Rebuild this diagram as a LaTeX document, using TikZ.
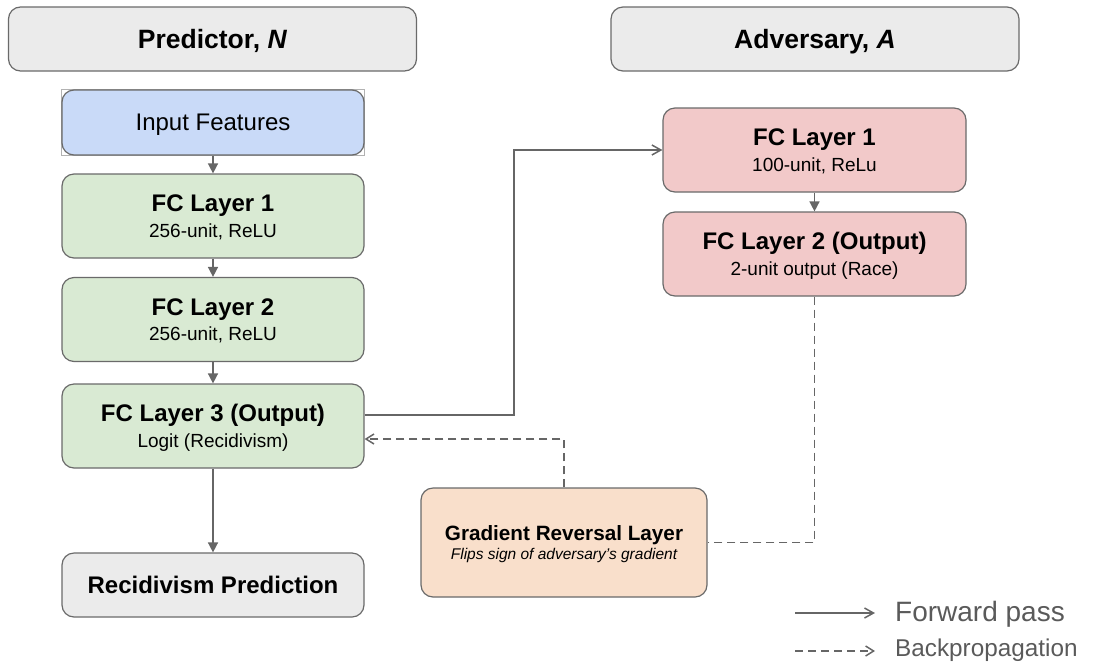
\documentclass[tikz,border=0pt]{standalone}
\usepackage{fontspec}
\setmainfont{Liberation Sans}
\usetikzlibrary{arrows.meta,calc}

\definecolor{edge}{HTML}{6A6A6A}
\definecolor{linegray}{HTML}{666666}
\definecolor{greyfill}{HTML}{EBEBEB}
\definecolor{bluefill}{HTML}{C9DAF8}
\definecolor{greenfill}{HTML}{D9EAD3}
\definecolor{redfill}{HTML}{F2C9C9}
\definecolor{peachfill}{HTML}{F9DFCB}
\definecolor{legendtext}{HTML}{5A5A5A}

\newcommand{\hd}[2]{{\fontsize{#1}{#1}\selectfont\bfseries #2}}
\newcommand{\sub}[2]{{\fontsize{#1}{#1}\selectfont #2}}

\tikzset{
  box/.style={draw=edge, line width=1.2pt, rounded corners=12pt, inner sep=0pt,
    align=center, text=black, minimum width=302pt, text depth=0pt},
  titlebox/.style={box, fill=greyfill, minimum width=408pt, minimum height=64pt},
  fwd/.style={draw=linegray, line width=1.5pt, -{Triangle[length=10pt,width=10pt]}},
  fwdopen/.style={draw=linegray, line width=1.5pt, -{Straight Barb[length=9pt,width=10pt]}},
  bwd/.style={draw=linegray, line width=1.5pt, dash pattern=on 8pt off 5pt,
    -{Straight Barb[length=8pt,width=10pt]}},
  bwdline/.style={draw=linegray, line width=1.5pt, dash pattern=on 8pt off 5pt},
  legendlabel/.style={anchor=west, inner sep=0pt, text=legendtext},
}

\begin{document}
\begin{tikzpicture}[x={(1pt,0)}, y={(0,-1pt)}]
\useasboundingbox (0,0) rectangle (1094,670);

% column headers
\node[titlebox] (ptitle) at (212.5,39) {\hd{26.5}{Predictor, \textit{N}}};
\node[titlebox] (atitle) at (815,39) {\hd{26.5}{Adversary, \textit{A}}};

% predictor column
\draw[gray!60, line width=0.8pt] (61.5,89.5) rectangle (364.5,155.5);
\node[box, fill=bluefill, minimum height=65pt] (inp) at (213,122.5)
  {\sub{24}{Input Features}};
\node[box, fill=greenfill, minimum height=84pt] (n1) at (213,216)
  {\hd{24}{FC Layer 1}\\[6pt]\sub{19}{256-unit, ReLU}};
\node[box, fill=greenfill, minimum height=84pt] (n2) at (213,319.5)
  {\hd{24}{FC Layer 2}\\[6pt]\sub{19}{256-unit, ReLU}};
\node[box, fill=greenfill, minimum height=84pt] (n3) at (213,426)
  {\hd{24}{FC Layer 3 (Output)}\\[6pt]\sub{19}{Logit (Recidivism)}};
\node[box, fill=greyfill, minimum height=64pt] (rec) at (213,585)
  {\hd{24}{Recidivism Prediction}};

% adversary column
\node[box, fill=redfill, minimum width=303pt, minimum height=84pt] (a1) at (814.5,150)
  {\hd{24}{FC Layer 1}\\[6pt]\sub{19}{100-unit, ReLu}};
\node[box, fill=redfill, minimum width=303pt, minimum height=84pt] (a2) at (814.5,254)
  {\hd{24}{FC Layer 2 (Output)}\\[6pt]\sub{19}{2-unit output (Race)}};

% gradient reversal
\node[box, fill=peachfill, minimum width=286pt, minimum height=109pt] (grl) at (564,542.5)
  {\hd{20.7}{Gradient Reversal Layer}\\[3pt]{\fontsize{15.5}{15.5}\selectfont\itshape Flips sign of adversary’s gradient}};

% forward pass
\draw[fwd] (inp) -- (n1);
\draw[fwd] (n1) -- (n2);
\draw[fwd] (n2) -- (n3);
\draw[fwd] (n3) -- (rec);
\draw[fwd] (a1) -- (a2);
\coordinate (fj) at (514,415);
\draw[fwdopen] (n3.east |- fj) -- (fj) |- (a1.west);

% backpropagation
\coordinate (bj) at (564,439);
\draw[bwd] (grl.north) -- (bj) -- (n3.east |- bj);
\draw[bwdline] (a2.south) |- (grl.east);

% legend
\coordinate (lfa) at (795,613);
\coordinate (lfb) at (875,613);
\coordinate (lba) at (795,651);
\coordinate (lbb) at (875,651);
\draw[fwdopen] (lfa) -- (lfb);
\draw[bwd] (lba) -- (lbb);
\node[legendlabel] (lf) at (895,614) {\sub{28}{Forward pass}};
\node[legendlabel] (lb) at (895,650) {\sub{24.3}{Backpropagation}};
\end{tikzpicture}
\end{document}
